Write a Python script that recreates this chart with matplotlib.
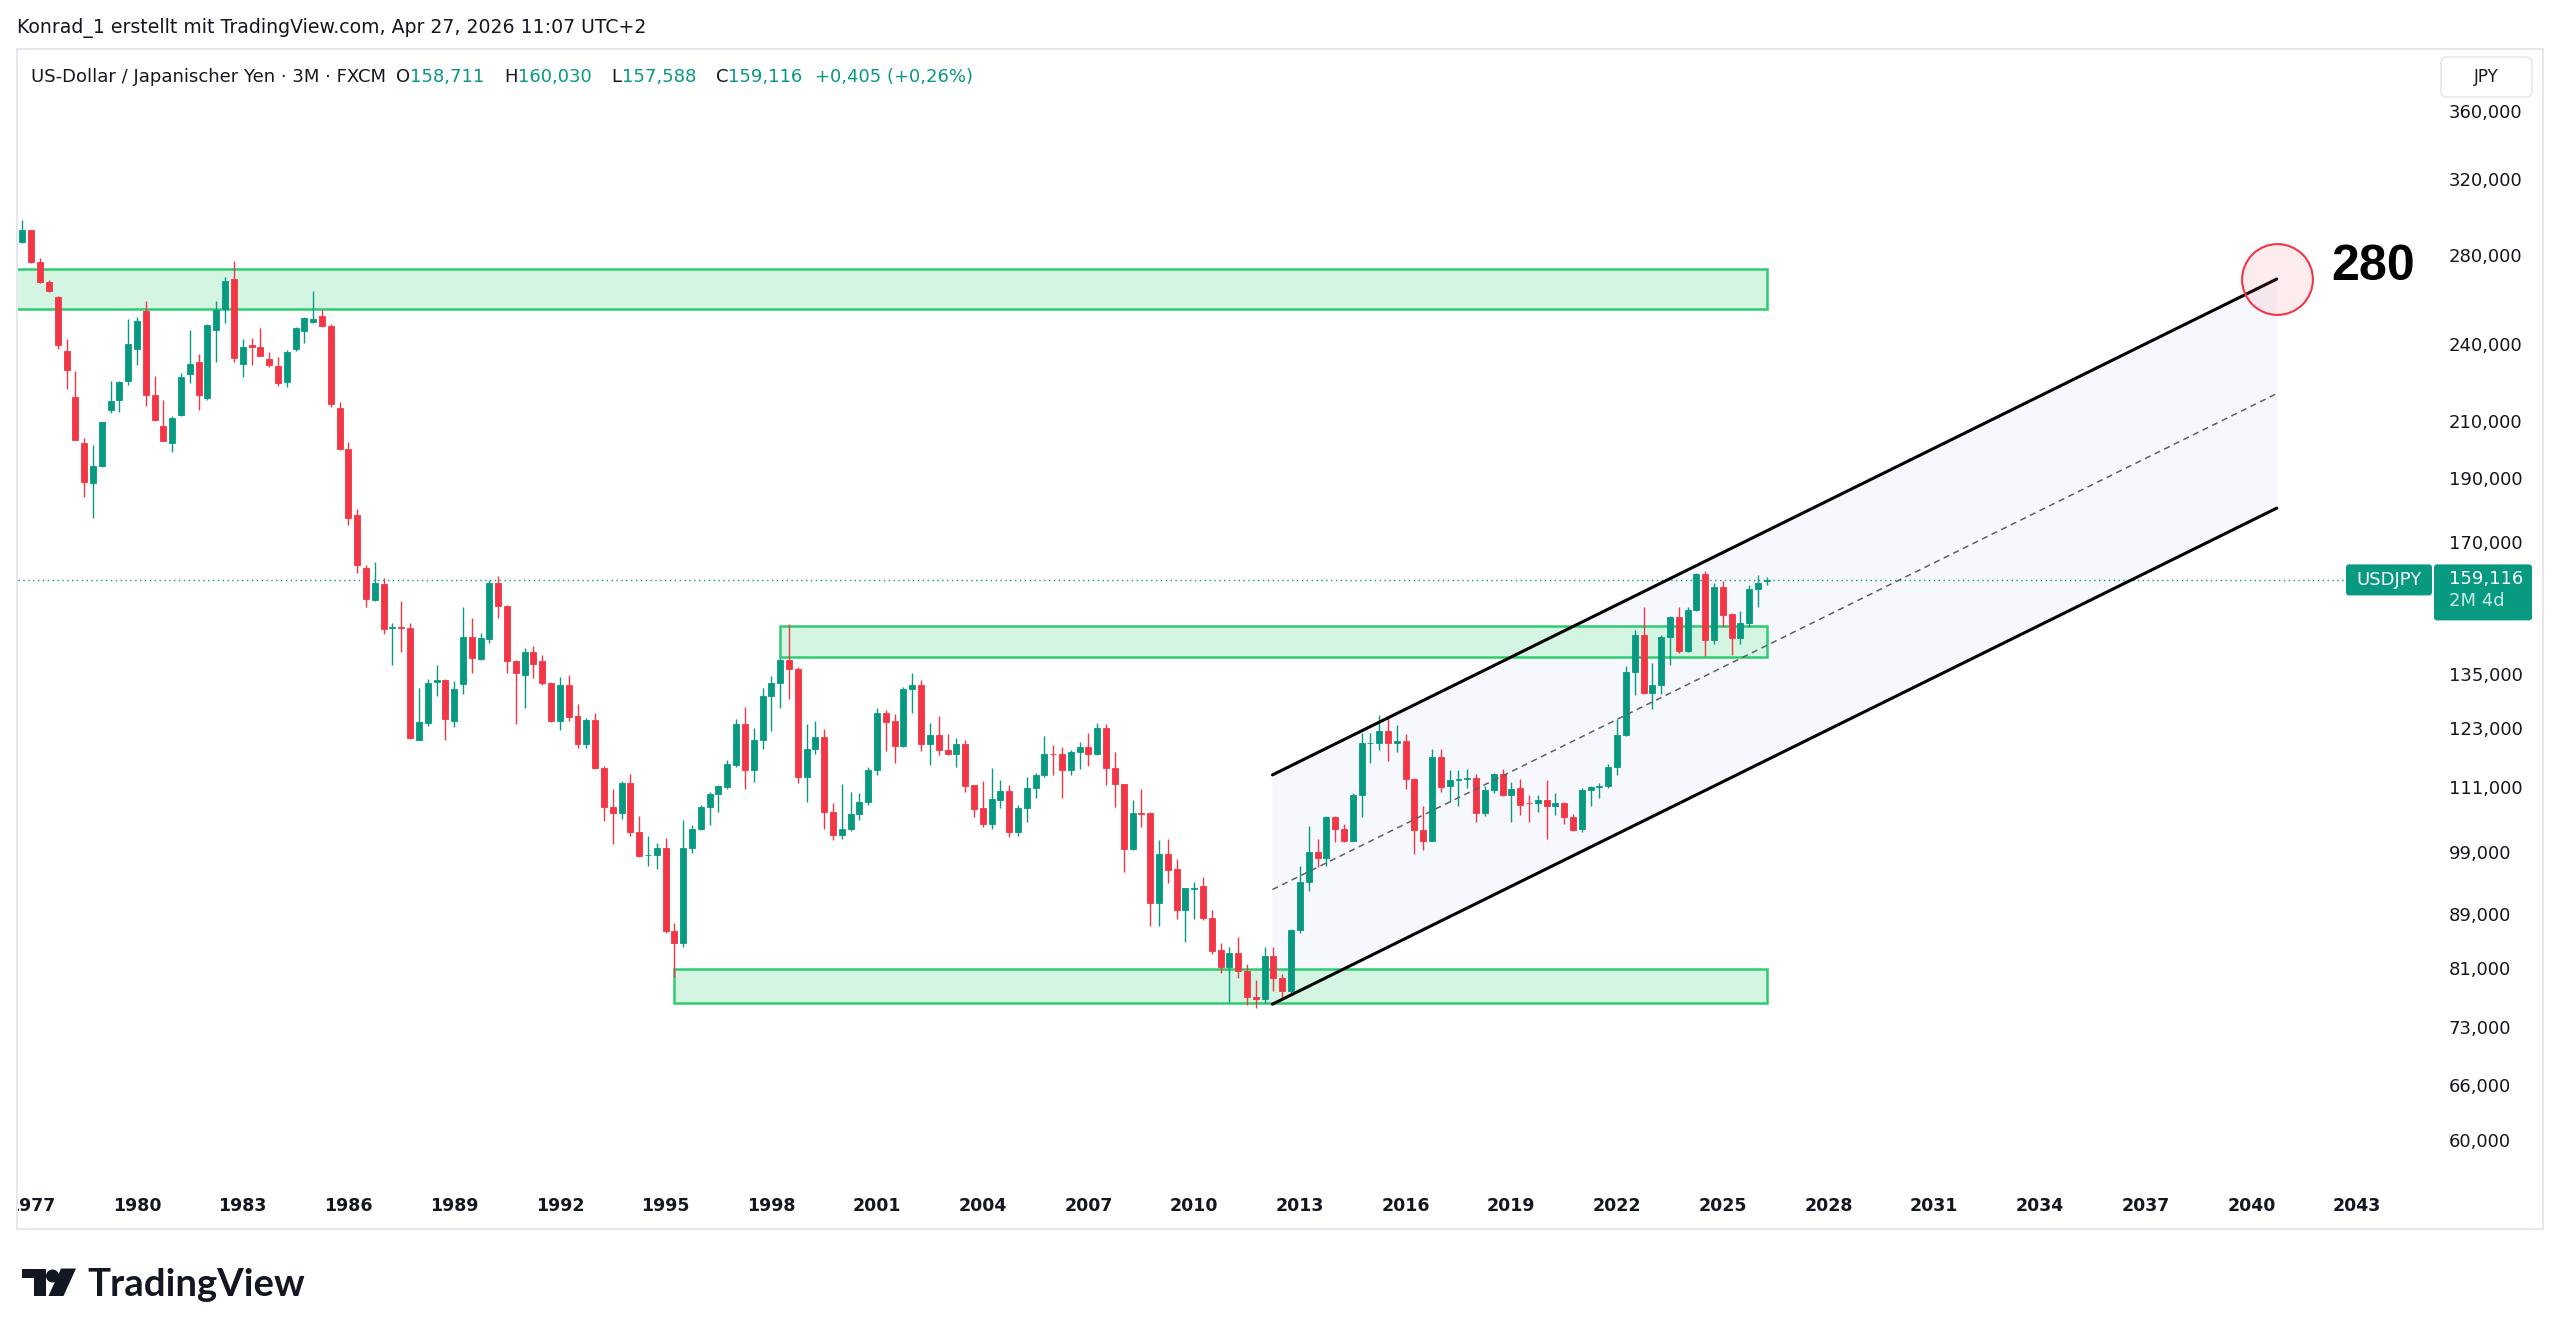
import numpy as np
import matplotlib
matplotlib.use("Agg")
import matplotlib.pyplot as plt
from matplotlib.patches import Rectangle, Polygon, Circle, FancyBboxPatch
from matplotlib.ticker import FixedLocator, NullLocator, FuncFormatter

W, H = 2560, 1337

# USD/JPY 3M candles, first bar 1976 Q4, one bar per quarter up to 2026 Q2
first_bar = 1976.75
bar_step = 0.25

opens = [
    286.7,
    292.6, 276.9, 267.1, 260.5,  # 1977
    237.2, 218.9, 202.0, 188.4,
    194.0, 214.0, 217.6, 224.9,
    237.8, 254.1, 219.4, 208.0,  # 1980
    202.1, 211.9, 227.8, 232.6,
    218.3, 245.7, 255.2, 268.7,
    231.7, 239.4, 238.8, 233.8,
    231.1, 224.4, 237.8, 245.5,
    249.4, 252.1, 247.7, 214.5,  # 1985
    199.7, 178.1, 162.4, 153.6,
    158.0, 146.4, 146.6, 146.4,
    120.5, 124.1, 133.1, 133.6,
    124.5, 132.7, 144.0, 138.6,
    143.5, 158.3, 152.0, 138.2,  # 1990
    134.8, 140.3, 138.2, 132.9,
    124.5, 132.5, 125.6, 119.6,
    124.7, 114.6, 107.2, 106.0,
    111.8, 102.5, 98.5, 98.6,
    99.7, 86.3, 84.5, 99.7,  # 1995
    103.2, 107.2, 109.6, 111.0,
    115.3, 123.7, 114.3, 120.3,
    130.0, 132.9, 138.4, 136.2,
    112.9, 118.5, 121.0, 106.2,
    102.0, 103.1, 105.8, 108.0,  # 2000
    114.3, 126.3, 124.4, 119.2,
    131.5, 132.5, 119.6, 121.5,
    118.4, 117.6, 119.5, 111.3,
    106.9, 104.0, 108.5, 110.2,
    102.5, 107.0, 110.7, 113.3,  # 2005
    117.6, 117.5, 114.3, 117.9,
    118.9, 117.6, 122.9, 114.6,
    111.5, 99.5, 106.0, 106.0,
    90.6, 98.7, 96.1, 89.6,
    92.9, 93.3, 88.3, 83.5,  # 2010
    81.1, 83.1, 80.5, 76.9,
    76.7, 82.7, 79.6, 77.7,
    86.5, 94.1, 99.1, 98.0,
    105.2, 103.1, 101.0, 109.4,
    119.7, 119.7, 122.2, 119.8,  # 2015
    120.2, 112.4, 102.9, 101.0,
    116.8, 111.1, 112.3, 112.5,
    112.7, 106.1, 110.4, 113.5,
    109.4, 110.8, 107.9, 107.9,
    108.5, 107.3, 107.9, 105.2,  # 2020
    103.2, 110.4, 110.9, 111.2,
    114.8, 121.5, 135.6, 144.6,
    130.7, 132.5, 144.1, 149.2,
    140.7, 151.0, 160.7, 143.3,
    157.2, 149.9, 143.7, 147.5,  # 2025
    156.5, 158.711,
]

highs = [
    297.8,
    292.9, 278.6, 268.2, 261.0,
    241.9, 228.8, 203.8, 201.3,
    209.6, 224.9, 225.0, 250.6,
    251.6, 258.6, 226.9, 217.6,
    211.7, 228.0, 245.8, 235.8,
    248.5, 258.7, 269.5, 277.3,
    241.9, 242.3, 246.9, 236.8,
    234.7, 237.4, 247.2, 251.6,
    263.2, 254.6, 248.3, 217.0,
    202.2, 180.0, 163.3, 164.2,
    159.6, 147.7, 153.4, 147.5,
    131.9, 133.8, 137.2, 133.8,
    133.4, 151.7, 148.8, 145.0,
    159.1, 160.2, 152.3, 138.5,
    141.3, 141.8, 139.6, 133.2,
    134.4, 134.8, 128.2, 125.1,
    126.1, 115.0, 110.5, 112.2,
    113.4, 105.5, 101.8, 100.6,
    101.5, 87.6, 104.7, 103.9,
    107.5, 110.0, 111.3, 116.2,
    124.8, 127.5, 122.9, 131.8,
    134.6, 138.8, 147.4, 136.7,
    123.7, 124.4, 122.7, 107.8,
    111.5, 110.0, 109.8, 114.9,
    127.2, 126.8, 126.0, 132.1,
    135.2, 133.7, 124.1, 125.5,
    121.7, 120.9, 120.5, 111.4,
    112.1, 114.7, 112.3, 111.3,
    107.5, 112.8, 113.6, 121.2,
    119.4, 118.9, 118.3, 119.9,
    121.9, 124.1, 123.8, 117.9,
    111.6, 108.5, 110.6, 106.3,
    101.2, 101.3, 97.8, 93.1,
    94.0, 94.8, 89.6, 84.5,
    83.9, 85.5, 81.5, 79.3,
    84.0, 83.9, 80.1, 86.6,
    96.6, 103.7, 101.3, 105.5,
    105.4, 104.1, 109.8, 121.8,
    121.8, 125.8, 125.1, 123.6,
    121.7, 112.6, 107.3, 118.6,
    118.6, 114.2, 114.3, 114.5,
    113.4, 111.2, 113.6, 114.5,
    112.0, 112.4, 109.4, 109.4,
    112.3, 109.8, 108.0, 105.9,
    110.8, 111.2, 111.8, 115.4,
    124.8, 137.0, 145.9, 151.9,
    137.7, 144.6, 149.4, 151.9,
    151.9, 161.0, 161.7, 158.2,
    158.9, 150.2, 150.7, 157.7,
    160.5, 160.030,
]

lows = [
    286.0,
    276.2, 266.8, 262.7, 237.8,
    222.0, 203.0, 183.7, 177.1,
    193.8, 212.7, 213.3, 223.4,
    231.2, 215.4, 210.0, 202.5,
    198.9, 211.5, 224.1, 213.9,
    217.8, 232.7, 249.0, 232.7,
    226.7, 231.3, 234.8, 230.6,
    223.0, 222.8, 237.0, 240.2,
    249.0, 247.3, 215.0, 199.5,
    175.1, 160.9, 151.9, 153.4,
    144.7, 137.2, 140.4, 120.6,
    120.3, 123.4, 130.0, 120.5,
    123.2, 130.5, 135.4, 138.4,
    142.6, 148.8, 135.4, 123.8,
    127.2, 134.1, 132.4, 124.3,
    122.5, 124.5, 118.7, 118.8,
    114.4, 104.6, 100.4, 105.0,
    101.9, 98.2, 96.7, 96.2,
    86.1, 79.7, 84.0, 98.9,
    102.9, 103.9, 106.3, 110.5,
    114.8, 110.5, 112.0, 118.5,
    122.3, 127.2, 129.3, 111.7,
    108.1, 117.5, 103.2, 101.2,
    101.3, 102.7, 104.7, 107.5,
    113.3, 118.2, 115.7, 119.0,
    126.3, 118.2, 115.3, 117.2,
    117.2, 114.9, 110.0, 105.3,
    103.4, 103.2, 107.0, 101.7,
    101.8, 104.4, 108.9, 112.8,
    113.3, 108.9, 113.3, 114.5,
    115.1, 117.3, 111.3, 107.2,
    95.6, 99.4, 103.4, 87.1,
    87.1, 93.8, 88.1, 84.7,
    88.2, 88.0, 82.9, 80.2,
    76.3, 79.6, 75.9, 75.5,
    76.1, 77.7, 77.0, 77.4,
    86.1, 92.6, 96.5, 96.6,
    100.8, 100.8, 101.0, 105.2,
    115.7, 118.3, 116.1, 118.0,
    110.5, 98.7, 99.4, 100.9,
    110.0, 108.1, 107.3, 110.7,
    104.4, 105.5, 109.8, 109.3,
    104.4, 105.7, 104.3, 106.2,
    101.3, 105.6, 104.0, 102.8,
    102.6, 107.4, 108.9, 110.7,
    113.3, 121.3, 130.2, 130.4,
    127.0, 130.4, 137.2, 140.2,
    140.3, 150.6, 139.4, 142.4,
    146.5, 139.6, 142.4, 146.5,
    151.9, 157.588,
]

closes = [
    292.6,
    276.9, 267.1, 263.3, 239.4,
    229.3, 203.1, 188.7, 194.1,
    209.4, 217.4, 224.5, 239.9,
    249.6, 219.4, 210.2, 202.8,
    210.8, 226.5, 231.9, 219.4,
    247.9, 254.6, 267.9, 234.3,
    238.8, 238.9, 235.1, 231.3,
    224.3, 236.8, 246.6, 251.2,
    250.5, 247.7, 216.0, 199.9,
    177.3, 163.3, 153.9, 158.2,
    146.1, 146.6, 146.4, 120.8,
    124.2, 132.9, 133.6, 124.8,
    131.6, 144.0, 138.8, 143.7,
    158.3, 152.0, 138.2, 135.2,
    140.4, 137.4, 132.9, 124.5,
    132.5, 125.4, 119.6, 124.7,
    114.6, 107.1, 106.0, 111.8,
    102.5, 98.4, 98.6, 99.7,
    86.3, 84.5, 99.7, 103.2,
    107.2, 109.6, 111.1, 115.4,
    123.7, 114.3, 120.3, 130.0,
    132.9, 138.4, 136.2, 112.9,
    118.5, 121.0, 106.2, 102.0,
    103.1, 105.8, 108.0, 114.3,
    126.3, 124.3, 119.2, 131.6,
    132.5, 119.6, 121.5, 118.3,
    117.6, 119.5, 111.2, 106.8,
    104.0, 108.6, 110.2, 102.5,
    107.0, 110.7, 113.3, 117.6,
    117.5, 114.3, 117.9, 118.9,
    117.6, 122.9, 114.6, 111.5,
    99.5, 106.0, 105.9, 90.6,
    98.7, 96.0, 89.6, 93.0,
    93.1, 88.3, 83.4, 81.1,
    83.1, 80.5, 77.0, 76.7,
    82.7, 79.6, 77.7, 86.5,
    94.1, 99.1, 98.0, 105.2,
    103.1, 101.0, 109.4, 119.7,
    119.8, 122.2, 119.7, 120.2,
    112.4, 102.9, 101.0, 116.8,
    111.0, 112.3, 112.5, 112.7,
    106.1, 110.4, 113.5, 109.4,
    110.5, 107.6, 107.8, 108.5,
    107.3, 107.9, 105.2, 103.0,
    110.4, 110.9, 111.2, 114.8,
    121.5, 135.6, 144.6, 130.7,
    132.5, 144.1, 149.1, 140.7,
    151.0, 160.7, 143.3, 157.2,
    149.7, 143.7, 147.5, 156.5,
    158.3, 159.116,
]

year_ticks = list(range(1977, 2044, 3))
price_ticks = [360, 320, 280, 240, 210, 190, 170, 135, 123, 111, 99, 89, 81, 73, 66, 60]

# drawings: (start, end, low, high)
zone_top = (1970.0, 2026.25, 255.2, 273.5)
zone_mid = (1998.25, 2026.25, 139.2, 146.9)
zone_low = (1995.25, 2026.25, 76.1, 80.8)
channel_t = (2012.22, 2040.72)
channel_upper = (113.3, 268.7)
channel_lower = (76.0, 180.3)
target_text = "280"

legend_parts = [
    ("US-Dollar / Japanischer Yen · 3M · FXCM", "dark", 10),
    ("O", "dark", 0), ("158,711", "teal", 20),
    ("H", "dark", 0), ("160,030", "teal", 20),
    ("L", "dark", 0), ("157,588", "teal", 20),
    ("C", "dark", 0), ("159,116", "teal", 12),
    ("+0,405 (+0,26%)", "teal", 0),
]

UP = "#089981"
DOWN = "#f23645"
TEXT = "#131722"

assert len(opens) == len(highs) == len(lows) == len(closes)

plt.rcParams["font.family"] = ["DejaVu Sans"]

fig = plt.figure(figsize=(W / 100, H / 100), dpi=100)
fig.patch.set_facecolor("white")


def pane(x0, y0, x1, y1):
    return [x0 / W, 1 - y1 / H, (x1 - x0) / W, (y1 - y0) / H]


ax = fig.add_axes(pane(18, 50, 2432, 1185))
ax.set_yscale("log")
ax.set_xlim(1976.623, 2045.125)
ax.set_ylim(55.47, 400.4)
ax.set_facecolor("none")
for s in ax.spines.values():
    s.set_visible(False)
ax.tick_params(axis="x", bottom=False, labelbottom=False)
ax.yaxis.tick_right()
ax.yaxis.set_major_locator(FixedLocator(price_ticks))
ax.yaxis.set_minor_locator(NullLocator())
ax.yaxis.set_major_formatter(FuncFormatter(lambda v, _: f"{v:.3f}".replace(".", ",")))
ax.tick_params(axis="y", length=0, pad=12, labelsize=13, labelcolor=TEXT)

# candles
o = np.array(opens)
h = np.array(highs)
l = np.array(lows)
c = np.array(closes)
x = first_bar + bar_step * np.arange(len(o))
colors = np.where(c >= o, UP, DOWN)
ax.vlines(x, l, h, colors=colors, lw=1.0, zorder=5)
lo = np.minimum(o, c)
hi = np.maximum(o, c)
ax.bar(x, hi - lo, bottom=lo, width=0.17, color=colors, edgecolor=colors,
       linewidth=0.6, zorder=6)

# zones
for t0, t1, z_lo, z_hi in (zone_top, zone_mid, zone_low):
    ax.add_patch(Rectangle((t0, z_lo), t1 - t0, z_hi - z_lo, facecolor="#d5f5e3",
                           edgecolor="#2ecc71", lw=1.8, zorder=3))

# parallel channel
t0, t1 = channel_t
ax.fill([t0, t1, t1, t0],
        [channel_upper[0], channel_upper[1], channel_lower[1], channel_lower[0]],
        color="#f7f8fe", lw=0, zorder=1)
ax.plot(channel_t, channel_upper, color="black", lw=2.2, zorder=7, solid_capstyle="round")
ax.plot(channel_t, channel_lower, color="black", lw=2.2, zorder=7, solid_capstyle="round")
mid = np.sqrt(np.array(channel_upper) * np.array(channel_lower))
ax.plot(channel_t, mid, color="#5d606b", lw=1.1, ls=(0, (4, 3)), zorder=7)

# target
ax.plot([t1], [channel_upper[1]], marker="o", ms=51, mfc=(242 / 255, 54 / 255, 69 / 255, 0.09),
        mec=DOWN, mew=1.5, zorder=8)
ax.annotate(target_text, xy=(t1, channel_upper[1]), xytext=(39, -1), textcoords="offset points",
            ha="left", va="baseline", fontsize=36, fontweight="bold",
            family=["Liberation Sans", "DejaVu Sans"], color="black", zorder=9)

# last price line
ax.axhline(c[-1], color=UP, lw=1.0, ls=(0, (1, 2.5)), zorder=4)

# time scale
ax_t = fig.add_axes(pane(18, 1185, 2432, 1230))
ax_t.set_xlim(ax.get_xlim())
ax_t.axis("off")
for yr in year_ticks:
    ax_t.text(yr, 0.53, str(yr), transform=ax_t.get_xaxis_transform(), ha="center", va="center",
              fontsize=12.5, fontweight="bold", color=TEXT, clip_on=True)

# overlay for the chrome, pixel coordinates
ov = fig.add_axes([0, 0, 1, 1], zorder=10)
ov.set_xlim(0, W)
ov.set_ylim(H, 0)
ov.axis("off")
ov.patch.set_alpha(0)

ov.add_patch(Rectangle((17, 49), 2526, 1180, fill=False, ec="#e0e3eb", lw=1.2))

ov.add_patch(FancyBboxPatch((2441, 57), 91, 40, boxstyle="round,pad=0,rounding_size=6",
                            fc="white", ec="#e0e3eb", lw=1.0))
ov.text(2486.5, 77, "JPY", ha="center", va="center", fontsize=12, color=TEXT)

# price label follows the last close
py = H - ax.transData.transform((2000, c[-1]))[1]
ov.add_patch(FancyBboxPatch((2346, py - 15.5), 86, 31, boxstyle="round,pad=0,rounding_size=3",
                            fc=UP, ec="none"))
ov.text(2389, py + 0.5, "USDJPY", ha="center", va="center", fontsize=13, color="white")
ov.add_patch(FancyBboxPatch((2434, py - 15.5), 98, 56, boxstyle="round,pad=0,rounding_size=3",
                            fc=UP, ec="none"))
ov.text(2449, py - 1, f"{c[-1]:.3f}".replace(".", ","), ha="left", va="center", fontsize=13,
        color="white")
ov.text(2449, py + 21, "2M 4d", ha="left", va="center", fontsize=13, color="#c6ece5")

# header
ov.text(17, 28, "Konrad_1 erstellt mit TradingView.com, Apr 27, 2026 11:07 UTC+2",
        ha="left", va="center", fontsize=13.6, color=TEXT)

renderer = fig.canvas.get_renderer()
lx = 31
for txt, col, gap in legend_parts:
    t = ov.text(lx, 77, txt, ha="left", va="center", fontsize=13,
                color=UP if col == "teal" else TEXT)
    bb = t.get_window_extent(renderer=renderer)
    lx = bb.x1 + gap

# TradingView logo
ov.add_patch(Polygon([(21.7, 1268.5), (46, 1268.5), (46, 1296), (33.5, 1296), (33.5, 1278.3),
                      (21.7, 1278.3)], closed=True, fc=TEXT, ec="none"))
ov.add_patch(Circle((52.5, 1276), 6.5, fc=TEXT, ec="none"))
ov.add_patch(Polygon([(61, 1268.5), (76, 1268.5), (63.5, 1296), (48.5, 1296)], closed=True,
                     fc=TEXT, ec="none"))
ov.text(87, 1296, "TradingView", ha="left", va="baseline", fontsize=27.5, fontweight="bold",
        family=["Lato", "DejaVu Sans"], color=TEXT)

fig.savefig("out.png", dpi=100, facecolor="white")
